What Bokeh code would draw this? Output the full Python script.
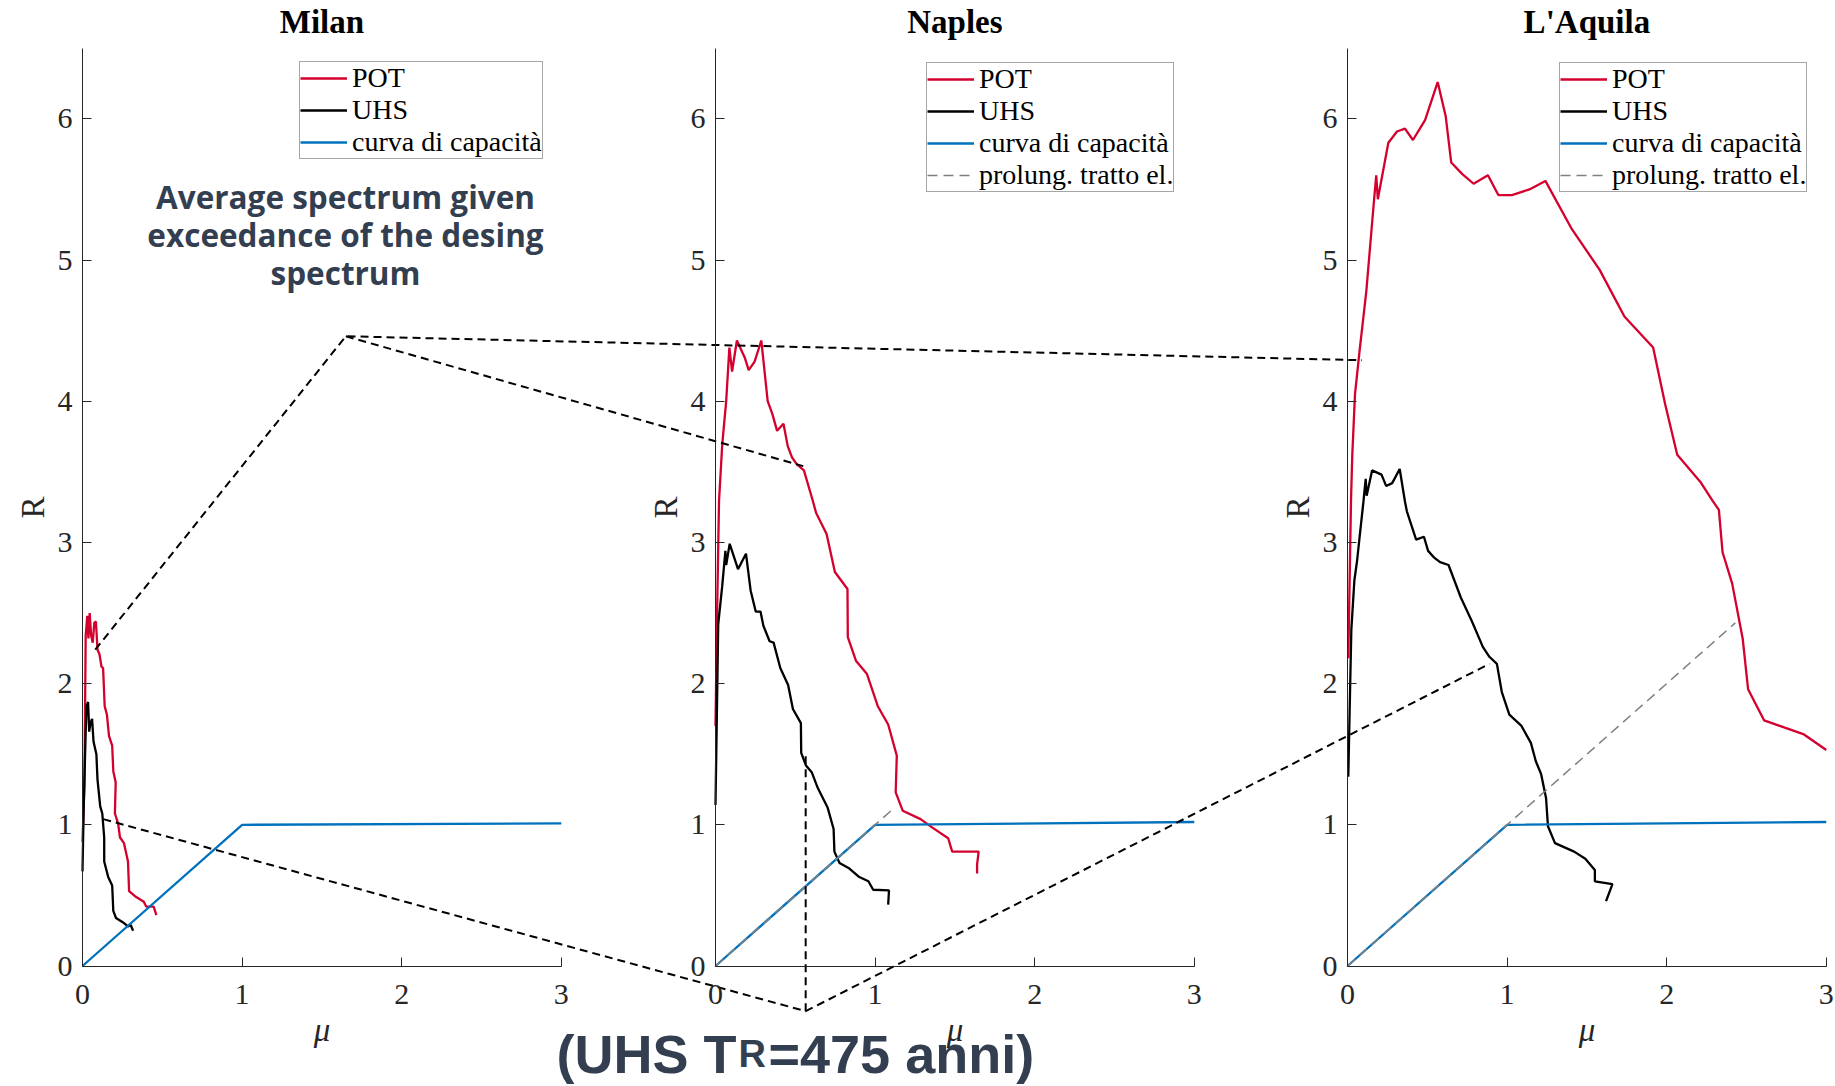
from bokeh.plotting import figure
from bokeh.models import Range1d, LinearAxis, FixedTicker, Legend, LegendItem
from bokeh.core.properties import value
from bokeh.embed import file_html
from bokeh.resources import INLINE

# ---------------- data ----------------
PANELS = ["Milan", "Naples", "L'Aquila"]
X_TICKS = [0, 1, 2, 3]
Y_TICKS = [0, 1, 2, 3, 4, 5, 6]
X_MAX = 3
Y_MAX = 6.5
X_LABEL = "μ"
Y_LABEL = "R"
LEGEND_LABELS = ["POT", "UHS", "curva di capacità", "prolung. tratto el."]

MILAN_POT_MU = [0.0, 0.012, 0.02, 0.03, 0.037, 0.045, 0.054, 0.064, 0.074, 0.084, 0.094, 0.106,
                0.119, 0.129, 0.139, 0.153, 0.166, 0.186, 0.193, 0.208, 0.203, 0.223, 0.235, 0.26,
                0.285, 0.292, 0.334, 0.384, 0.4, 0.446, 0.463]
MILAN_POT_R = [0.88, 1.28, 2.34, 2.48, 2.32, 2.50, 2.34, 2.29, 2.43, 2.44, 2.24, 2.21,
               2.12, 2.11, 1.84, 1.78, 1.63, 1.56, 1.38, 1.30, 1.08, 1.01, 0.91, 0.87,
               0.74, 0.53, 0.49, 0.455, 0.42, 0.42, 0.36]
MILAN_UHS_MU = [0.0, 0.007, 0.02, 0.025, 0.035, 0.042, 0.05, 0.06, 0.069, 0.087, 0.094, 0.111,
                0.124, 0.136, 0.136, 0.161, 0.186, 0.193, 0.21, 0.252, 0.285, 0.302, 0.317]
MILAN_UHS_R = [0.67, 1.10, 1.66, 1.84, 1.87, 1.66, 1.72, 1.75, 1.59, 1.50, 1.32, 1.13,
               1.08, 0.91, 0.74, 0.63, 0.57, 0.39, 0.34, 0.31, 0.28, 0.29, 0.25]
MILAN_CAP_MU = [0, 1, 3]
MILAN_CAP_R = [0, 1, 1.01]

NAPLES_POT_MU = [0.0, 0.01, 0.022, 0.042, 0.067, 0.087, 0.104, 0.134, 0.183, 0.208, 0.245, 0.287,
                 0.327, 0.356, 0.386, 0.426, 0.453, 0.48, 0.512, 0.554, 0.611, 0.63, 0.696, 0.748,
                 0.827, 0.829, 0.881, 0.948, 1.017, 1.082, 1.136, 1.129, 1.173, 1.285, 1.359, 1.458,
                 1.483, 1.649, 1.639, 1.639]
NAPLES_POT_R = [1.70, 2.5, 3.29, 3.69, 4.0, 4.38, 4.21, 4.43, 4.31, 4.22, 4.28, 4.43,
                4.0, 3.91, 3.79, 3.84, 3.68, 3.6, 3.55, 3.51, 3.29, 3.21, 3.06, 2.79,
                2.67, 2.33, 2.16, 2.07, 1.84, 1.71, 1.49, 1.23, 1.10, 1.04, 0.98, 0.905,
                0.81, 0.81, 0.72, 0.655]
NAPLES_UHS_MU = [0.0, 0.017, 0.042, 0.062, 0.067, 0.089, 0.141, 0.191, 0.22, 0.252, 0.282, 0.3,
                 0.339, 0.364, 0.406, 0.455, 0.485, 0.535, 0.537, 0.567, 0.604, 0.641, 0.703, 0.74,
                 0.745, 0.777, 0.839, 0.901, 0.958, 0.988, 1.087, 1.082]
NAPLES_UHS_R = [1.14, 2.42, 2.69, 2.94, 2.84, 2.99, 2.81, 2.92, 2.66, 2.51, 2.51, 2.41,
                2.30, 2.29, 2.11, 1.99, 1.82, 1.72, 1.51, 1.42, 1.37, 1.26, 1.12, 0.97,
                0.81, 0.73, 0.69, 0.63, 0.60, 0.54, 0.535, 0.435]
NAPLES_CAP_MU = [0, 1, 3]
NAPLES_CAP_R = [0, 1, 1.02]
NAPLES_EL_MU = [0, 1.11]
NAPLES_EL_R = [0, 1.11]

AQUILA_POT_MU = [0.005, 0.022, 0.03, 0.047, 0.076, 0.118, 0.166, 0.18, 0.19, 0.256, 0.31, 0.36,
                 0.41, 0.486, 0.565, 0.615, 0.65, 0.718, 0.79, 0.88, 0.945, 1.03, 1.14, 1.24,
                 1.405, 1.58, 1.735, 1.915, 1.99, 2.066, 2.21, 2.29, 2.327, 2.35, 2.41, 2.476,
                 2.51, 2.61, 2.86, 3.0]
AQUILA_POT_R = [2.18, 3.3, 3.62, 4.05, 4.36, 4.78, 5.42, 5.6, 5.43, 5.83, 5.91, 5.93,
                5.85, 5.99, 6.26, 6.02, 5.69, 5.61, 5.54, 5.6, 5.46, 5.46, 5.5, 5.56,
                5.22, 4.93, 4.6, 4.38, 3.98, 3.62, 3.43, 3.29, 3.23, 2.93, 2.71, 2.32,
                1.96, 1.74, 1.64, 1.53]
AQUILA_UHS_MU = [0.005, 0.017, 0.024, 0.043, 0.06, 0.076, 0.1, 0.114, 0.12, 0.154, 0.213, 0.242,
                 0.28, 0.327, 0.36, 0.372, 0.43, 0.479, 0.505, 0.545, 0.58, 0.633, 0.71, 0.78,
                 0.848, 0.889, 0.936, 0.967, 1.014, 1.09, 1.149, 1.18, 1.213, 1.244, 1.256, 1.3,
                 1.42, 1.49, 1.55, 1.55, 1.66, 1.62]
AQUILA_UHS_R = [1.34, 2.0, 2.38, 2.73, 2.87, 3.04, 3.29, 3.45, 3.33, 3.51, 3.48, 3.40,
                3.42, 3.52, 3.29, 3.22, 3.02, 3.04, 2.94, 2.89, 2.86, 2.84, 2.61, 2.44,
                2.26, 2.19, 2.14, 1.94, 1.78, 1.70, 1.58, 1.45, 1.36, 1.19, 0.99, 0.87,
                0.81, 0.76, 0.68, 0.60, 0.58, 0.46]
AQUILA_CAP_MU = [0, 1, 3]
AQUILA_CAP_R = [0, 1, 1.02]
AQUILA_EL_MU = [0, 2.43]
AQUILA_EL_R = [0, 2.43]

# annotation connectors (panel, mu, R)
CONNECT_POT_A = [("Milan", 0.08, 2.24), ("Milan", 1.65, 4.46), ("L'Aquila", 0.09, 4.29)]
CONNECT_POT_B = [("Milan", 1.65, 4.46), ("Naples", 0.55, 3.54)]
CONNECT_UHS_A = [("Milan", 0.13, 1.04), ("Naples", 0.565, -0.32), ("L'Aquila", 0.89, 2.14)]
CONNECT_UHS_B = [("Naples", 0.565, -0.32), ("Naples", 0.565, 1.50)]

NOTE_LINES = ["Average spectrum given", "exceedance of the desing", "spectrum"]
BOTTOM_TEXT = ["(UHS T", "R", "=475 anni)"]

SERIES = {
    "Milan": dict(pot=(MILAN_POT_MU, MILAN_POT_R), uhs=(MILAN_UHS_MU, MILAN_UHS_R),
                  cap=(MILAN_CAP_MU, MILAN_CAP_R), el=None),
    "Naples": dict(pot=(NAPLES_POT_MU, NAPLES_POT_R), uhs=(NAPLES_UHS_MU, NAPLES_UHS_R),
                   cap=(NAPLES_CAP_MU, NAPLES_CAP_R), el=(NAPLES_EL_MU, NAPLES_EL_R)),
    "L'Aquila": dict(pot=(AQUILA_POT_MU, AQUILA_POT_R), uhs=(AQUILA_UHS_MU, AQUILA_UHS_R),
                     cap=(AQUILA_CAP_MU, AQUILA_CAP_R), el=(AQUILA_EL_MU, AQUILA_EL_R)),
}

# ---------------- layout / style ----------------
W, H = 1835, 1086
PANEL_LEFT = [82, 715, 1347]
SX = 159.6
Y0 = 965.5
SY = 141.2
LEGEND_LEFT = [299, 926, 1559]
LEGEND_BOTTOM = {3: 159, 4: 192}   # bottom edge (px from top) by number of rows

RED = "#D4002E"
BLUE = "#0072BD"
GREY = "#808080"
AXC = "#262626"
NOTE_C = "#333F50"
SERIF = "Liberation Serif"

p = figure(width=W, height=H, x_range=Range1d(0, W), y_range=Range1d(H, 0),
           x_axis_type=None, y_axis_type=None, toolbar_location=None,
           output_backend="svg", min_border=0, outline_line_color=None)
p.min_border_left = p.min_border_right = p.min_border_top = p.min_border_bottom = 0
p.background_fill_color = "white"

xr, yr = {}, {}
for i in range(3):
    xr[f"x{i}"] = Range1d(-PANEL_LEFT[i] / SX, (W - PANEL_LEFT[i]) / SX)
    yr[f"y{i}"] = Range1d(-(H - Y0) / SY, Y0 / SY)
p.extra_x_ranges = xr
p.extra_y_ranges = yr


def style_axis(ax, standoff, label_standoff, italic):
    ax.axis_line_color = AXC
    ax.axis_line_width = 1
    ax.major_tick_line_color = AXC
    ax.major_tick_in = 9
    ax.major_tick_out = 0
    ax.minor_tick_line_color = None
    ax.major_label_text_font = SERIF
    ax.major_label_text_font_size = "30px"
    ax.major_label_text_color = AXC
    ax.major_label_standoff = standoff
    ax.axis_label_text_font = SERIF
    ax.axis_label_text_font_size = "33px"
    ax.axis_label_text_color = AXC
    ax.axis_label_text_font_style = "italic" if italic else "normal"
    ax.axis_label_standoff = label_standoff


for i, name in enumerate(PANELS):
    xn, yn = f"x{i}", f"y{i}"
    xa = LinearAxis(x_range_name=xn, y_range_name=yn, fixed_location=0, bounds=(0, X_MAX),
                    ticker=FixedTicker(ticks=X_TICKS), axis_label=X_LABEL)
    style_axis(xa, 19, 4, True)
    p.add_layout(xa, "below")
    ya = LinearAxis(x_range_name=xn, y_range_name=yn, fixed_location=0, bounds=(0, Y_MAX),
                    ticker=FixedTicker(ticks=Y_TICKS), axis_label=Y_LABEL)
    style_axis(ya, 10, 4, False)
    p.add_layout(ya, "left")

    s = SERIES[name]
    r_pot = p.line(s["pot"][0], s["pot"][1], x_range_name=xn, y_range_name=yn,
                   line_color=RED, line_width=2.3)
    r_uhs = p.line(s["uhs"][0], s["uhs"][1], x_range_name=xn, y_range_name=yn,
                   line_color="black", line_width=2.3)
    r_cap = p.line(s["cap"][0], s["cap"][1], x_range_name=xn, y_range_name=yn,
                   line_color=BLUE, line_width=2.3)
    items = [LegendItem(label=LEGEND_LABELS[0], renderers=[r_pot]),
             LegendItem(label=LEGEND_LABELS[1], renderers=[r_uhs]),
             LegendItem(label=LEGEND_LABELS[2], renderers=[r_cap])]
    if s["el"] is not None:
        r_el = p.line(s["el"][0], s["el"][1], x_range_name=xn, y_range_name=yn,
                      line_color=GREY, line_width=1.5, line_dash="10 6")
        items.append(LegendItem(label=LEGEND_LABELS[3], renderers=[r_el]))

    leg = Legend(items=items, location=(LEGEND_LEFT[i], H - LEGEND_BOTTOM[len(items)]),
                 orientation="vertical",
                 label_text_font=SERIF, label_text_font_size="28px", label_text_color="black",
                 glyph_width=47, glyph_height=30, label_height=30, label_standoff=5,
                 padding=0, spacing=0, margin=0,
                 border_line_color="#4d4d4d", border_line_width=1,
                 background_fill_color="white", background_fill_alpha=1.0)
    p.add_layout(leg)

    # panel title
    p.text(x=[PANEL_LEFT[i] + 1.5 * SX], y=[21], text=[name], text_font=value(SERIF),
           text_font_size="33px", text_font_style="bold", text_color="black",
           text_align="center", text_baseline="alphabetic")


def to_px(panel, mu, r):
    i = PANELS.index(panel)
    return PANEL_LEFT[i] + mu * SX, Y0 - r * SY


for conn in [CONNECT_POT_A, CONNECT_POT_B, CONNECT_UHS_A, CONNECT_UHS_B]:
    pts = [to_px(*c) for c in conn]
    p.line([q[0] for q in pts], [q[1] for q in pts], line_color="black",
           line_width=2, line_dash="8 5")

# note text
p.text(x=[345] * 3, y=[196, 234, 272], text=NOTE_LINES, text_font=value("Open Sans"),
       text_font_size="31.5px", text_font_style="bold", text_color=NOTE_C,
       text_align="center", text_baseline="alphabetic")

# bottom text
BIG_FONT = value("Liberation Sans")
p.text(x=[736], y=[1053], text=[BOTTOM_TEXT[0]], text_font=BIG_FONT,
       text_font_size="54px", text_font_style="bold", text_color=NOTE_C,
       text_align="right", text_baseline="alphabetic")
p.text(x=[738], y=[1053], text=[BOTTOM_TEXT[1]], text_font=BIG_FONT,
       text_font_size="38px", text_font_style="bold", text_color=NOTE_C,
       text_align="left", text_baseline="alphabetic")
p.text(x=[768], y=[1053], text=[BOTTOM_TEXT[2]], text_font=BIG_FONT,
       text_font_size="54px", text_font_style="bold", text_color=NOTE_C,
       text_align="left", text_baseline="alphabetic")

open("out.html", "w").write(file_html(p, INLINE))
